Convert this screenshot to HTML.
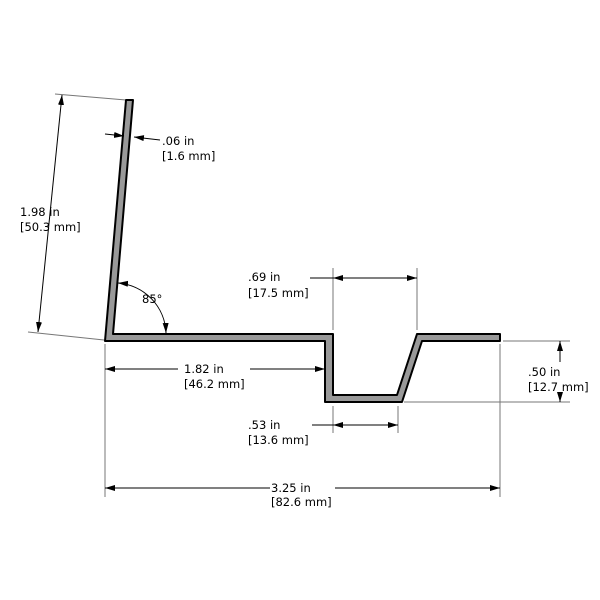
<!DOCTYPE html>
<html><head><meta charset="utf-8"><style>
html,body{margin:0;padding:0;background:#fff;}
svg{display:block;}
text{font-family:"DejaVu Sans","Liberation Sans",sans-serif;font-size:11.5px;fill:#000;}
</style></head><body>
<svg width="600" height="600" viewBox="0 0 600 600" xmlns="http://www.w3.org/2000/svg">
<defs>
<marker id="a" viewBox="0 0 10 6" refX="10" refY="3" markerWidth="10" markerHeight="6" orient="auto-start-reverse" markerUnits="userSpaceOnUse"><path d="M0,0 L10,3 L0,6 z" fill="#000"/></marker>
</defs>
<g stroke="#777" stroke-width="1" fill="none">
<line x1="126" y1="100" x2="55" y2="94"/>
<line x1="104" y1="340" x2="28" y2="332"/>
<line x1="105" y1="344" x2="105" y2="497"/>
<line x1="500" y1="344" x2="500" y2="497"/>
<line x1="333" y1="268" x2="333" y2="330"/>
<line x1="417" y1="268" x2="417" y2="330"/>
<line x1="333" y1="406" x2="333" y2="433"/>
<line x1="398" y1="406" x2="398" y2="433"/>
<line x1="503" y1="341" x2="570" y2="341"/>
<line x1="404" y1="402" x2="570" y2="402"/>
</g>
<path d="M126,100 L133,100 L113,334 L333,334 L333,395 L397,395 L417,334 L500,334 L500,341 L422,341 L402,402 L325,402 L325,341 L105,341 Z" fill="#999" stroke="#000" stroke-width="2" stroke-linejoin="round"/>
<g stroke="#000" stroke-width="1" fill="none">
<line x1="62" y1="95" x2="38" y2="332" marker-start="url(#a)" marker-end="url(#a)"/>
<line x1="105" y1="134" x2="124" y2="136" marker-end="url(#a)"/>
<line x1="160" y1="140" x2="134" y2="137" marker-end="url(#a)"/>
<path d="M118,283 A52,52 0 0 1 166,333" marker-start="url(#a)" marker-end="url(#a)"/>
<line x1="310" y1="278" x2="333" y2="278"/>
<line x1="333" y1="278" x2="417" y2="278" marker-start="url(#a)" marker-end="url(#a)"/>
<line x1="105" y1="369" x2="178" y2="369" marker-start="url(#a)"/>
<line x1="250" y1="369" x2="325" y2="369" marker-end="url(#a)"/>
<line x1="312" y1="425" x2="333" y2="425"/>
<line x1="333" y1="425" x2="398" y2="425" marker-start="url(#a)" marker-end="url(#a)"/>
<line x1="560" y1="341" x2="560" y2="402" marker-start="url(#a)" marker-end="url(#a)"/>
<line x1="105" y1="488" x2="270" y2="488" marker-start="url(#a)"/>
<line x1="335" y1="488" x2="500" y2="488" marker-end="url(#a)"/>
</g>
<rect x="520" y="362" width="70" height="30" fill="#fff"/>
<text x="20" y="216">1.98 in</text><text x="20" y="231">[50.3 mm]</text>
<text x="162" y="145">.06 in</text><text x="162" y="160">[1.6 mm]</text>
<text x="142" y="303">85°</text>
<text x="248" y="281">.69 in</text><text x="248" y="297">[17.5 mm]</text>
<text x="184" y="373">1.82 in</text><text x="184" y="388">[46.2 mm]</text>
<text x="248" y="429">.53 in</text><text x="248" y="444">[13.6 mm]</text>
<text x="528" y="376">.50 in</text><text x="528" y="391">[12.7 mm]</text>
<text x="271" y="492">3.25 in</text><text x="271" y="506">[82.6 mm]</text>
</svg>
</body></html>
